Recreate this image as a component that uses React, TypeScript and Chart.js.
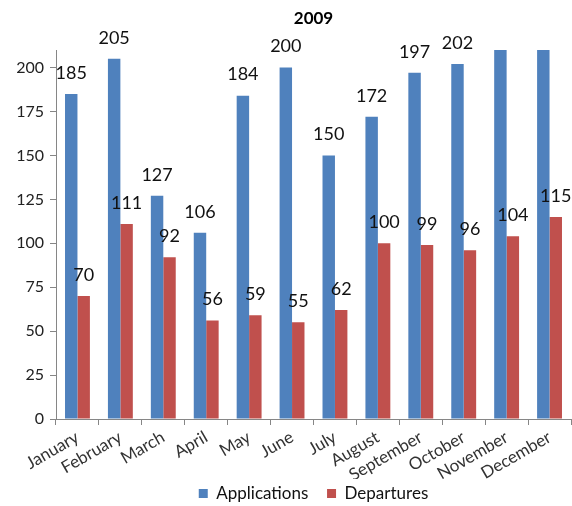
import React, { useEffect, useRef } from 'react';
import { Chart, registerables } from 'chart.js';

Chart.register(...registerables);

const categories = [
  'January', 'February', 'March', 'April', 'May', 'June',
  'July', 'August', 'September', 'October', 'November', 'December',
];
const applications = [185, 205, 127, 106, 184, 200, 150, 172, 197, 202, 215, 215];
const departures = [70, 111, 92, 56, 59, 55, 62, 100, 99, 96, 104, 115];
const yTicks = [0, 25, 50, 75, 100, 125, 150, 175, 200];
const yMax = 210;

const FONT = 'Lato, "Open Sans", sans-serif';

const valueLabels = {
  id: 'valueLabels',
  afterDatasetsDraw(chart: any) {
    const ctx = chart.ctx;
    ctx.save();
    ctx.font = `18px ${FONT}`;
    ctx.fillStyle = '#111';
    ctx.textAlign = 'center';
    ctx.textBaseline = 'middle';
    chart.data.datasets.forEach((ds: any, di: number) => {
      const meta = chart.getDatasetMeta(di);
      meta.data.forEach((el: any, i: number) => {
        const v = ds.data[i];
        if (v > yMax) return;
        ctx.fillText(String(v), el.x, el.y - 21);
      });
    });
    ctx.restore();
  },
};

export default function App() {
  const ref = useRef<HTMLCanvasElement>(null);
  useEffect(() => {
    if (!ref.current) return;
    const chart = new Chart(ref.current, {
      type: 'bar',
      data: {
        labels: categories,
        datasets: [
          {
            label: 'Applications',
            data: applications,
            backgroundColor: '#4F81BD',
            borderWidth: 0,
            categoryPercentage: 0.58,
            barPercentage: 1,
          },
          {
            label: 'Departures',
            data: departures,
            backgroundColor: '#C0504D',
            borderWidth: 0,
            categoryPercentage: 0.58,
            barPercentage: 1,
          },
        ],
      },
      options: {
        responsive: true,
        maintainAspectRatio: false,
        animation: false,
        layout: { padding: { left: 0, right: 1, top: 0, bottom: 0 } },
        plugins: {
          title: {
            display: true,
            text: '2009',
            fullSize: false,
            color: '#000',
            font: { family: FONT, size: 17, weight: 'bold' },
            padding: { top: 8, bottom: 21.6 },
          },
          legend: {
            position: 'bottom',
            fullSize: false,
            labels: {
              color: '#111',
              font: { family: FONT, size: 17 },
              boxWidth: 9,
              boxHeight: 9,
              padding: 6,
              generateLabels(chart: any) {
                const items = Chart.defaults.plugins.legend.labels.generateLabels(chart);
                return items.map((it: any, i: number) =>
                  i < items.length - 1 ? { ...it, text: it.text + '\u2003' } : it
                );
              },
            },
          },
          tooltip: { enabled: false },
        },
        scales: {
          x: {
            grid: {
              offset: true,
              drawOnChartArea: false,
              drawTicks: true,
              tickLength: 6,
              color: '#868686',
            },
            border: { color: '#868686' },
            ticks: {
              color: '#333',
              font: { family: FONT, size: 17 },
              minRotation: 30,
              maxRotation: 30,
              autoSkip: false,
              padding: 2,
            },
            afterFit(scale: any) {
              scale.height = 60;
            },
          },
          y: {
            min: 0,
            max: yMax,
            grid: {
              drawOnChartArea: false,
              drawTicks: true,
              tickLength: 6,
              color: '#868686',
            },
            border: { color: '#868686' },
            ticks: {
              color: '#222',
              font: { family: FONT, size: 16 },
              padding: 6,
            },
            afterBuildTicks(scale: any) {
              scale.ticks = yTicks.map((v) => ({ value: v }));
            },
            afterFit(scale: any) {
              scale.width = 56;
            },
          },
        },
      },
      plugins: [valueLabels],
    });
    return () => chart.destroy();
  }, []);
  return (
    <div style={{ position: 'absolute', left: 0, top: 0, width: 572, height: 506, overflow: 'hidden' }}>
      <div style={{ position: 'relative', width: 572, height: 512 }}>
        <canvas ref={ref} />
      </div>
    </div>
  );
}
